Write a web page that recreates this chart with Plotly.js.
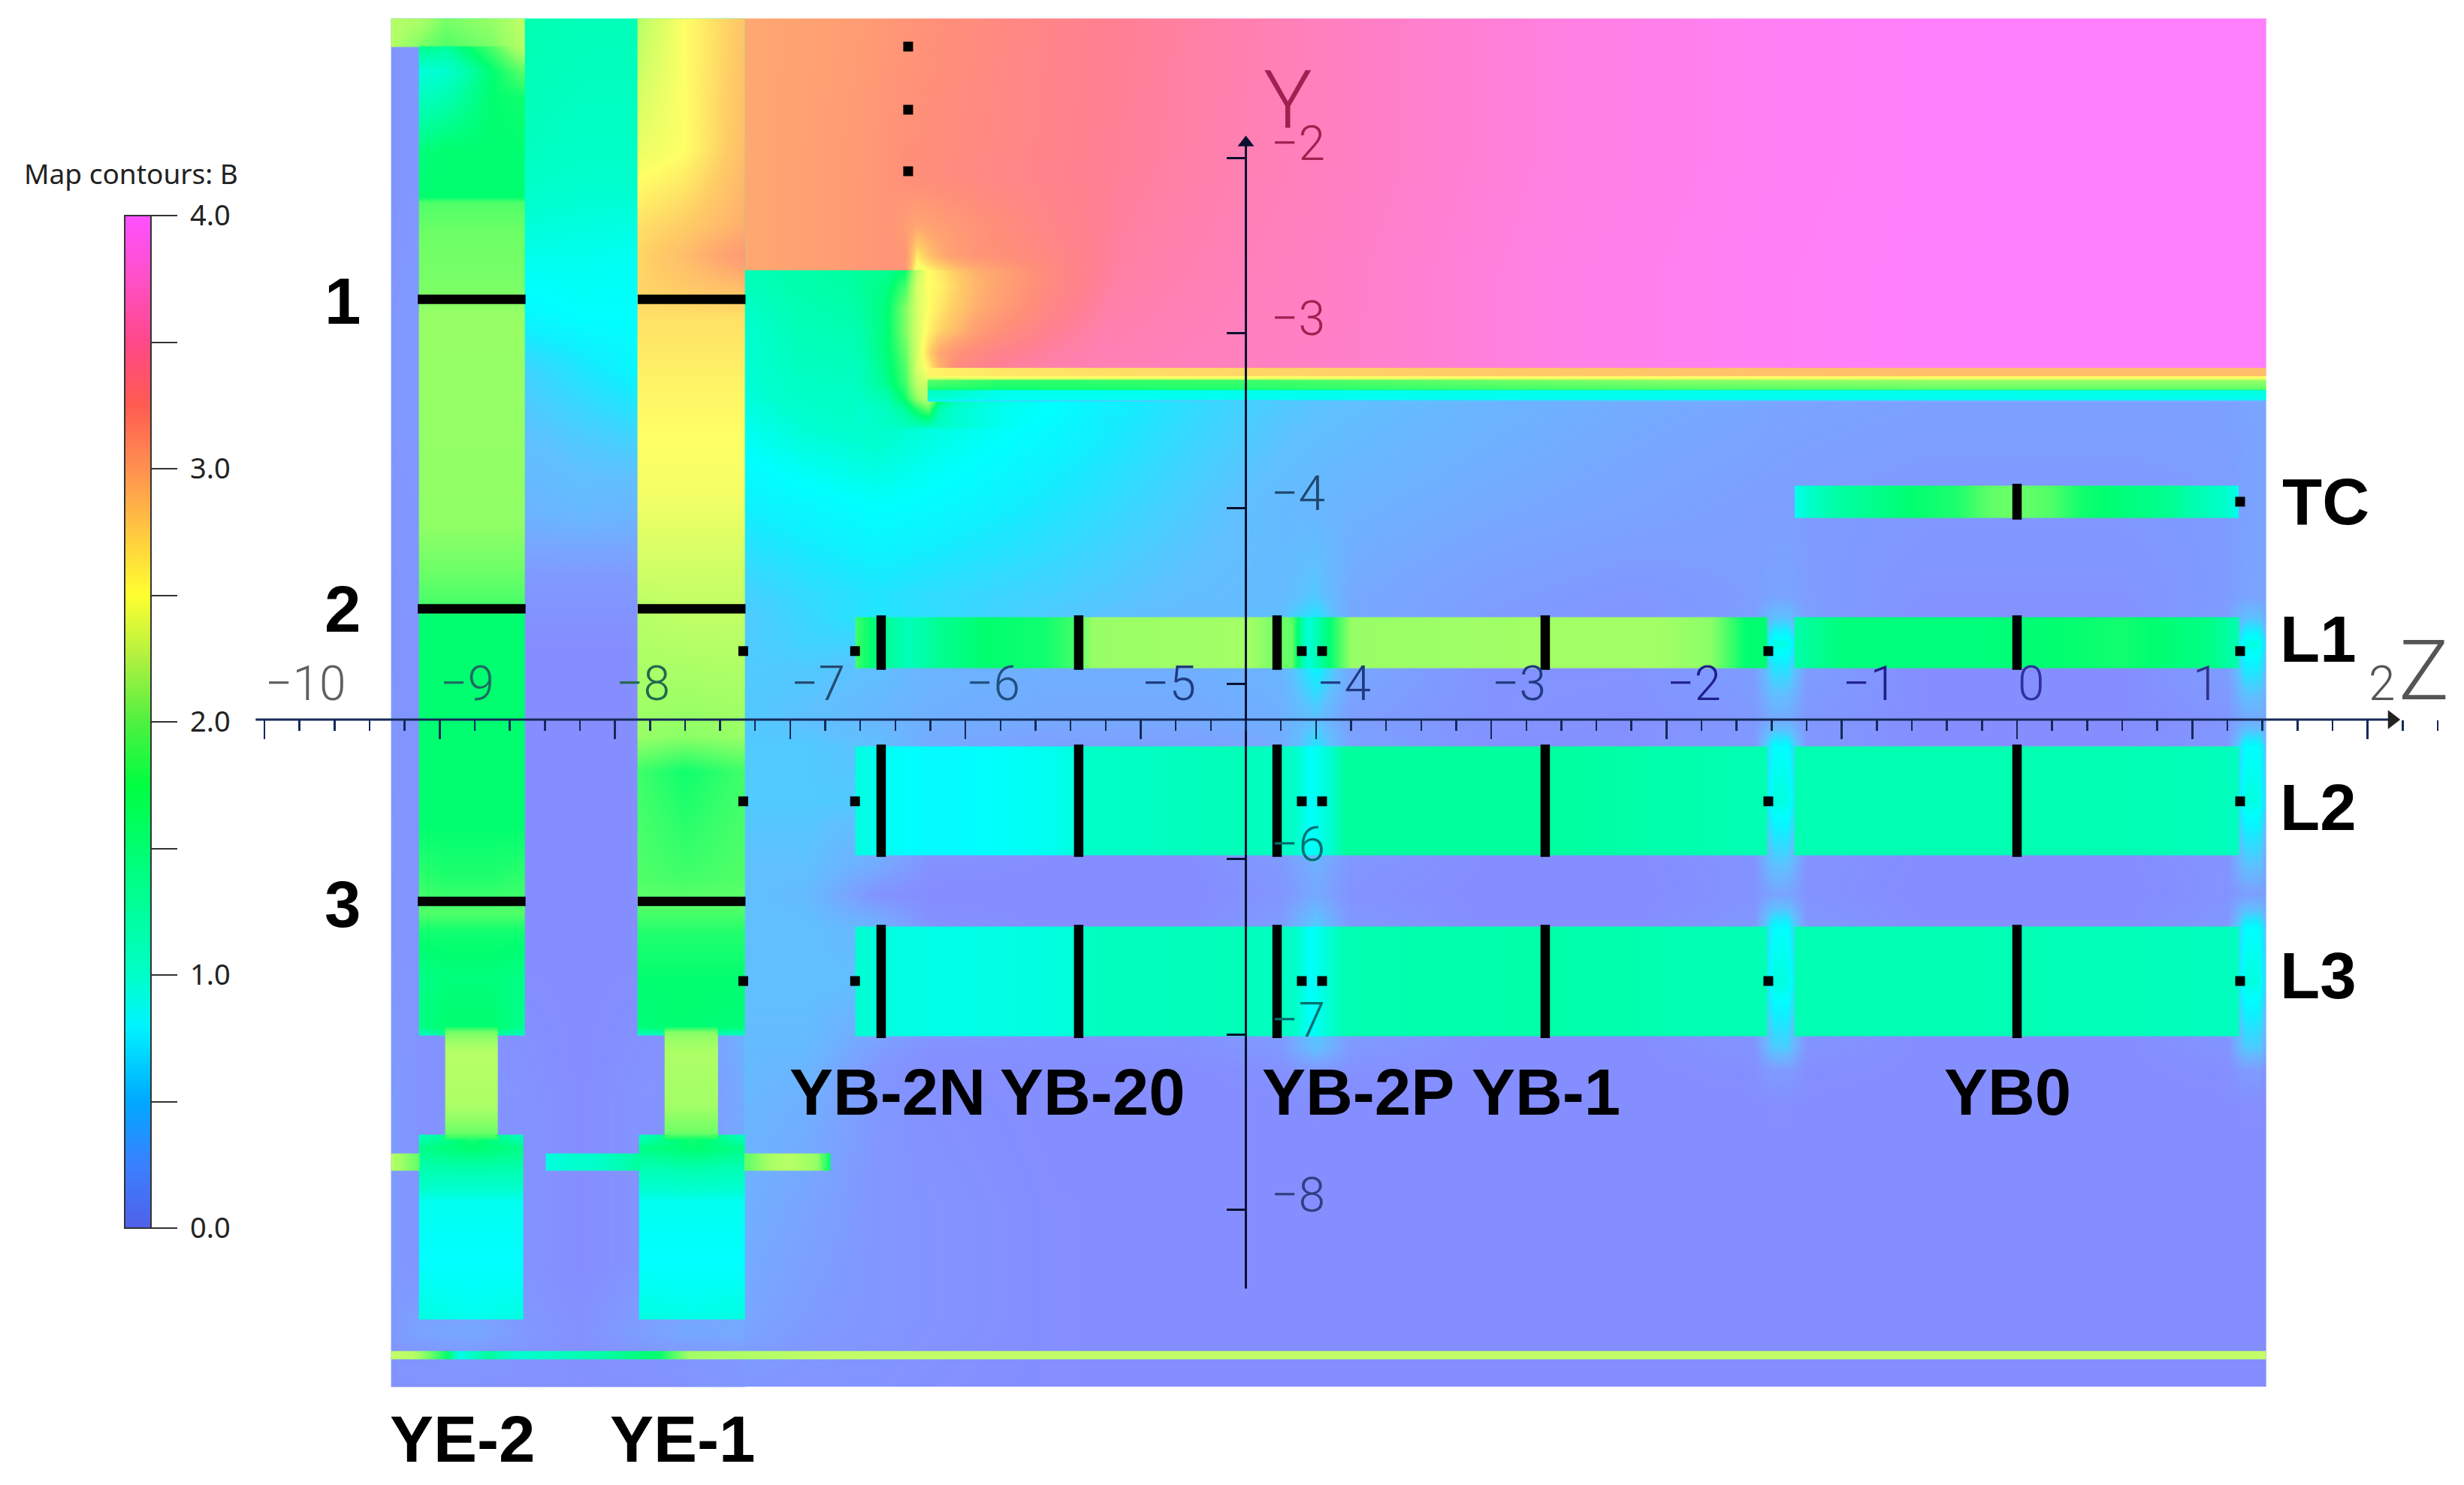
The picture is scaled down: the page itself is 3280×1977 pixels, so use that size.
<!DOCTYPE html>
<html><head><meta charset="utf-8">
<script src="https://cdn.plot.ly/plotly-3.0.1.min.js"></script>
<style>html,body{margin:0;padding:0;background:#fff}#c{width:3280px;height:1977px}</style>
</head><body><div id="c"></div>
<script>
// ---------- colour scales (B in tesla -> colour) ----------
const fieldStops=[[0,'#8888ff'],[0.25,'#7aa4ff'],[0.5,'#60c0ff'],[0.75,'#10f0ff'],[0.85,'#00ffff'],[1,'#00ffd0'],[1.25,'#00ffa8'],[1.5,'#00ff70'],[1.75,'#50ff68'],[2,'#99ff66'],[2.25,'#ccff66'],[2.5,'#ffff66'],[2.75,'#ffcc66'],[3,'#ffa870'],[3.25,'#ff9078'],[3.5,'#ff8090'],[3.75,'#ff80c0'],[4,'#ff80ff']];
const barStops=[[0,'#5060e8'],[0.25,'#3a80ff'],[0.5,'#00a8ff'],[0.8,'#00f4ff'],[1,'#00ffc8'],[1.5,'#00ff70'],[1.75,'#00ff40'],[2,'#50f040'],[2.25,'#b0f040'],[2.5,'#ffff30'],[2.75,'#ffc840'],[3,'#ff9050'],[3.25,'#ff5c50'],[3.5,'#ff4888'],[3.75,'#ff50c8'],[4,'#ff50ff']];

// ---------- lower field, right of the yokes ----------
const baseZ=[-7.261,-6.9,-6.5,-6.2,-5.5,-4.7,-4.2,-4.0,-3.8,-3.0,-2.2,-1.5,-1.39,-1.31,-1.2,-0.5,0.6,1.2,1.3,1.38,1.419];
const baseY=[-9.01,-8.6,-8.0,-7.4,-7.2,-7.08,-6.7,-6.39,-6.2,-6.04,-5.67,-5.36,-5.2,-4.9,-4.77,-4.62,-4.5,-4.0,-3.39];
const baseB=[
[.12,.1,.1,.08,.06,.05,.05,.05,.05,.05,.05,.05,.05,.05,.05,.05,.05,.05,.05,.05,.05],
[.28,.18,.12,.1,.06,.05,.05,.05,.05,.05,.05,.05,.05,.05,.05,.05,.05,.05,.05,.05,.05],
[.35,.25,.12,.1,.06,.05,.05,.05,.05,.05,.05,.05,.05,.05,.05,.05,.05,.05,.05,.05,.05],
[.42,.35,.13,.08,.05,.05,.05,.06,.05,.05,.05,.05,.06,.06,.05,.05,.05,.05,.06,.06,.05],
[.45,.4,.12,.06,.05,.05,.08,.14,.08,.05,.05,.07,.18,.18,.07,.05,.05,.07,.18,.18,.12],
[.45,.45,.2,.08,.07,.08,.15,.5,.15,.05,.05,.1,.55,.55,.1,.05,.05,.1,.55,.55,.35],
[.5,.5,.5,.3,.1,.1,.3,.8,.3,.05,.05,.2,.95,.95,.2,.05,.05,.2,.95,.95,.6],
[.5,.5,.4,.1,.05,.05,.2,.6,.15,.05,.05,.15,.85,.85,.15,.05,.05,.15,.85,.85,.55],
[.5,.45,.1,.04,.04,.04,.12,.3,.1,.04,.04,.1,.25,.25,.1,.04,.04,.1,.2,.2,.2],
[.5,.5,.3,.08,.05,.05,.15,.35,.12,.05,.05,.1,.5,.5,.1,.05,.05,.1,.5,.5,.3],
[.55,.55,.55,.3,.1,.1,.3,.8,.3,.05,.05,.2,.95,.95,.2,.05,.05,.2,.95,.95,.6],
[.55,.55,.5,.3,.2,.2,.3,.7,.25,.08,.08,.15,.85,.85,.15,.05,.05,.15,.85,.85,.55],
[.55,.5,.42,.35,.3,.3,.35,.5,.2,.1,.08,.15,.3,.3,.15,.05,.05,.12,.3,.3,.25],
[.55,.55,.5,.4,.35,.35,.4,.8,.3,.1,.1,.2,.7,.7,.2,.05,.05,.2,.75,.75,.5],
[.55,.6,.6,.5,.4,.35,.5,.95,.3,.15,.1,.2,.95,.95,.2,.05,.05,.2,.95,.95,.6],
[.55,.62,.7,.65,.55,.45,.5,.7,.3,.18,.12,.2,.5,.5,.2,.08,.08,.2,.5,.5,.35],
[.58,.64,.69,.65,.58,.48,.45,.55,.3,.2,.14,.19,.25,.25,.19,.1,.1,.18,.25,.25,.25],
[.75,.8,.85,.82,.7,.55,.45,.42,.38,.3,.25,.2,.2,.2,.18,.15,.15,.18,.22,.25,.25],
[.95,1.05,1.1,1.0,.85,.65,.55,.52,.5,.4,.32,.28,.25,.25,.25,.22,.22,.22,.25,.25,.25]];

// ---------- high field above the solenoid coil ----------
const upperZ=[-7.261,-6.6,-6.344,-5.8,-5.3,-4.8,-4.4,-3.9,-3.4,-2.6,-1.5,0,1.419];
const upperY=[-3.2,-2.643,-2.0,-1.207];
const upperB=[
[3,3.15,3.25,3.55,3.68,3.73,3.75,3.78,3.82,3.9,3.96,4,4],
[3,3.15,3.25,3.4,3.56,3.66,3.72,3.77,3.82,3.9,3.96,4,4],
[3,3.15,3.25,3.38,3.5,3.6,3.68,3.75,3.8,3.88,3.95,4,4],
[3,3.12,3.2,3.35,3.48,3.58,3.66,3.75,3.8,3.88,3.95,4,4]];

// ---------- field under the step ----------
const stepZ=[-7.261,-6.95,-6.623];
const stepY=[-3.39,-3.0,-2.643];
const stepB=[[.95,1.05,1.05],[1.0,1.15,1.2],[1.15,1.25,1.3]];

// ---------- curl at the coil end ----------
const curlZ=[-6.623,-6.451,-6.344,-6.279,-6.215,-6.151,-6.065,-5.936,-5.808,-5.508,-5.165];
const curlY=[-3.542,-3.435,-3.371,-3.285,-3.2,-3.114,-2.985,-2.857,-2.728,-2.643,-2.638,-2.557,-2.386,-2.129];
const curlB=[
[1.0,1.05,1.1,1.1,1.1,1.05,1.0,.95,.9,.82,.72],
[1.0,1.1,1.3,1.6,1.8,1.2,1.0,.95,.9,.85,.74],
[1.05,1.2,1.55,2.0,2.2,1.6,1.2,1.0,.95,.85,.76],
[1.1,1.35,1.7,2.2,2.3,2.0,1.7,1.6,1.6,1.6,1.6],
[1.1,1.4,1.75,2.3,2.55,2.9,3.3,3.45,3.55,3.65,3.7],
[1.15,1.45,1.8,2.3,2.7,3.0,3.2,3.35,3.45,3.6,3.7],
[1.2,1.45,1.9,2.3,2.55,2.7,2.85,3.1,3.25,3.5,3.68],
[1.25,1.45,1.9,2.3,2.5,2.6,2.75,2.95,3.1,3.4,3.65],
[1.3,1.4,1.7,2.3,2.5,2.55,2.7,2.9,3.05,3.35,3.6],
[1.3,1.35,1.5,2.2,2.5,2.6,2.75,2.95,3.05,3.35,3.58],
[3.15,3.2,3.2,2.4,2.55,2.65,2.8,2.98,3.08,3.35,3.58],
[3.15,3.2,3.2,2.6,2.8,2.95,3.1,3.2,3.25,3.38,3.56],
[3.15,3.2,3.12,3.02,3.06,3.1,3.15,3.22,3.28,3.42,3.54],
[3.15,3.2,3.25,3.27,3.28,3.3,3.32,3.35,3.38,3.45,3.53]];

// ---------- coil edge strip ----------
const stripZ=[-6.215,-5.8,-4.4,-2,-0.5,1.419];
const stripY=[-3.39,-3.375,-3.325,-3.318,-3.265,-3.258,-3.245,-3.24,-3.2];
const stripB=[
[.6,.5,.3,.22,.2,.2],
[1.0,.9,.9,.9,.9,.9],
[1.1,.9,.9,.9,.9,.95],
[1.6,1.55,1.6,1.75,1.8,1.8],
[1.8,1.65,1.7,1.95,2.0,2.0],
[2.3,2.4,2.4,2.45,2.45,2.45],
[2.45,2.5,2.5,2.5,2.5,2.5],
[2.55,2.62,2.7,2.8,2.85,2.85],
[2.55,2.62,2.7,2.8,2.85,2.85]];

// ---------- left part: vacuum columns between the endcap disks ----------
const leftZ=[-9.276,-9.117,-8.8,-8.517,-8.2,-7.87,-7.6,-7.261];
const leftY=[-9.01,-8.85,-8.7,-8.3,-7.4,-6.5,-4.8,-4.4,-4,-3.6,-3.2,-2.9,-2.6,-2,-1.207];
const leftB=[
[.1,.1,.1,.1,.08,.08,.1,.12],
[.1,.12,.12,.1,.08,.1,.12,.15],
[.15,.25,.3,.15,.08,.2,.3,.3],
[.16,.1,.1,.1,.05,.1,.1,.35],
[.16,.1,.1,.1,.05,.1,.1,.3],
[.14,.1,.1,.05,.05,.05,.1,.45],
[.12,.1,.1,.05,.05,.05,.1,.55],
[.12,.12,.15,.15,.15,.15,.15,.6],
[.12,.14,.3,.4,.45,.42,.5,.75],
[.14,.15,.4,.5,.55,.6,.7,.9],
[.14,.16,.5,.6,.7,.8,.9,1.0],
[.14,.16,.6,.8,.85,.85,.9,1],
[.12,.16,.7,.9,.9,.88,.9,1],
[.1,.14,.9,1.1,1.05,1.05,1,1],
[.1,.14,1,1.2,1.15,1.15,1,1]];

// ---------- endcap disks ----------
const ye2Z=[-9.117,-8.967,-8.7,-8.517];
const ye2Y=[-7.004,-6.96,-6.67,-6.41,-6.306,-6.113,-5.813,-5.205,-4.613,-4.58,-4.356,-4.1,-2.9,-2.77,-2.43,-2.257,-2.22,-1.957,-1.657,-1.507,-1.366];
const ye2B=[
[1.1,1.3,1.3,1.1],[1.4,1.5,1.5,1.35],[1.4,1.45,1.45,1.4],[1.55,1.55,1.55,1.55],[1.75,1.75,1.75,1.75],[1.65,1.6,1.6,1.65],[1.5,1.5,1.5,1.5],[1.5,1.5,1.5,1.5],[1.5,1.5,1.5,1.5],[1.7,1.7,1.7,1.7],[1.85,1.85,1.85,1.85],[1.97,1.97,1.97,1.97],[2,2,2,2],[1.9,1.9,1.9,1.9],[1.85,1.85,1.85,1.85],[1.75,1.75,1.75,1.75],[1.5,1.5,1.5,1.5],[1.45,1.5,1.5,1.5],[1.1,1.2,1.5,1.55],[.95,1.0,1.5,1.8],[1.4,1.3,1.75,2.2]];
const capZ=[-9.276,-9.117,-8.967,-8.7,-8.517];
const capY=[-1.366,-1.207];
const capB=[[2.15,1.9,1.75,1.9,2.15],[2.15,2.1,1.9,2.0,2.2]];
const ye1Z=[-7.87,-7.6,-7.261];
const ye1Y=[-7.004,-6.96,-6.7,-6.42,-6.24,-6.1,-5.5,-5.3,-4.6,-4.57,-4.4,-3.9,-3.3,-2.9,-2.78,-2.557,-2.386,-1.957,-1.207];
const ye1B=[
[1.1,1.25,1.1],[1.45,1.5,1.45],[1.5,1.5,1.5],[1.6,1.6,1.6],[1.8,1.8,1.8],[1.75,1.7,1.75],[1.7,1.55,1.7],[2.0,1.95,2.0],[2.15,2.2,2.2],[2.15,2.2,2.2],[2.25,2.25,2.25],[2.45,2.45,2.45],[2.55,2.55,2.55],[2.65,2.65,2.65],[2.7,2.75,2.8],[2.7,2.85,3.15],[2.65,2.75,2.95],[2.4,2.5,2.85],[2.15,2.5,2.8]];

// ---------- yoke tails, lower disks, crossbars, bottom line ----------
const tail2Z=[-8.967,-8.671];
const tail1Z=[-7.715,-7.415];
const tailY=[-7.6,-7.56,-7.4,-7.1,-6.99,-6.961];
const tail2B=[[1.6,1.6],[1.85,1.85],[2.1,2.1],[2.15,2.15],[1.9,1.9],[1.6,1.6]];
const tail1B=[[1.55,1.55],[1.85,1.85],[2.05,2.05],[2.1,2.1],[1.95,1.95],[1.6,1.6]];
const foot2Z=[-9.117,-8.82,-8.526];
const foot1Z=[-7.861,-7.56,-7.261];
const footY=[-8.624,-8.3,-7.95,-7.8,-7.65,-7.574];
const foot2B=[[.95,.9,.95],[.85,.85,.85],[.9,.9,.9],[1.15,1.15,1.15],[1.4,1.5,1.4],[1.1,1.6,1.1]];
const foot1B=[[.95,.92,.95],[.85,.85,.85],[.9,.9,.9],[1.1,1.15,1.1],[1.4,1.5,1.4],[1.1,1.6,1.1]];
const crossY=[-7.775,-7.681];
const cross1Z=[-9.276,-9.117];
const cross1V=[2.15,1.8];
const cross2Z=[-8.393,-8.1,-7.861];
const cross2V=[.95,1.05,1.3];
const cross3Z=[-7.261,-7.1,-7.0,-6.85,-6.772];
const cross3V=[1.8,2.1,2.15,2.0,1.5];
const lineZ=[-9.276,-9.147,-8.95,-8.886,-8.723,-8.556,-8.08,-7.737,-7.574,-6.794,1.419];
const lineV=[2.2,2.15,1.5,.9,1.3,1.0,1.25,1.55,2.05,2.2,2.2];
const lineY=[-8.851,-8.808];

// ---------- barrel wheels: layers L1, L2, L3 and TC ----------
const l1Y=[-4.909,-4.622];
const l2Y=[-5.976,-5.359];
const l3Y=[-7.009,-6.387];
const tcY=[-4.052,-3.872];
const l1LeftZ=[-6.627,-6.5,-6.33,-6.15,-5.9,-5.55,-5.38,-5.28,-4.4,-4.14,-4.05,-3.97,-3.8,-2.7,-2.05,-1.75,-1.55,-1.427];
const l1LeftV=[1.7,1.4,1.15,1.35,1.5,1.55,1.7,2.0,2.05,1.8,.95,1.3,2.0,2.05,2.05,1.95,1.5,1.5];
const rightZ=[-1.269,-1.0,-0.2,0.6,1.1,1.264];
const l1RightV=[1.25,1.45,1.45,1.55,1.4,1.2];
const l2LeftZ=[-6.627,-6.48,-6.15,-5.51,-5.38,-5.3,-4.44,-4.136,-4.03,-3.92,-3.84,-2.72,-1.65,-1.427];
const l2LeftV=[.95,.88,.82,.9,.95,1.05,1.15,1.05,.85,1.0,1.3,1.3,1.2,1.2];
const l2RightV=[1.2,1.2,1.2,1.18,1.15,1.1];
const l3LeftV=[1.0,.95,.92,.95,.98,1.1,1.15,1.05,.85,1.0,1.2,1.25,1.18,1.18];
const l3RightV=[1.18,1.18,1.18,1.15,1.12,1.1];
const tcZ=[-1.267,-1.046,-.603,-.337,-.16,-.015,.19,.37,.87,1.167,1.264];
const tcV=[.9,1.25,1.5,1.6,1.8,1.85,1.75,1.55,1.35,1.05,.9];

// ---------- black chambers ----------
const verticalZ=[-6.481,-5.354,-4.222,-2.692,0];
const stationY=[-2.808,-4.573,-6.242];
const ye2LineZ=[-9.125,-8.51];
const ye1LineZ=[-7.87,-7.255];
const tcBarZ=[0];
const dotRowsY=[-4.814,-5.671,-6.696];
const dotRowsZ=[-7.268,-6.63,-4.081,-3.965,-1.419,1.273];
const tcDot=[1.273,-3.962];
const topDotZ=-6.327;
const topDotY=[-1.366,-1.726,-2.077];

// ---------- axes ----------
const axisCrossY=-5.205, axisCrossZ=-4.4;
const zLine=[-10.05,2.12], yLine=[-8.45,-1.93];
const zTicks=[-10,-9,-8,-7,-6,-5,-4,-3,-2,-1,0,1,2];
const zTickText=['−10','−9','−8','−7','−6','−5','−4','−3','−2','−1','0','1','2'];
const zTickColor=['#606060','#1f6a60','#1f6a50','#254a70','#205080','#203a80','#203a80','#203a80','#20208a','#20208a','#3030a0','#333388','#555555'];
const yTicks=[-2,-3,-4,-6,-7,-8];
const yTickText=['−2','−3','−4','−6','−7','−8'];
const yTickColor=['#a02050','#a02050','#204870','#007070','#007070','#304080'];
const yMajor=[-2,-3,-4,-5,-6,-7,-8];
const barVals=[0,0.5,1,1.5,2,2.5,3,3.5,4];
const barText=['\u00a00.0','','\u00a01.0','','\u00a02.0','','\u00a03.0','','\u00a04.0'];

// pixel frame of the picture: 233.3 px per metre in z, 233.4 in y
const xr=[(0-2685)/233.3,(3280-2685)/233.3], yr=[-2-(1977-210)/233.4,-2-(0-210)/233.4];
const scale=s=>s.map(p=>[p[0]/4,p[1]]);
function field(x,y,z){
  const e=.001, X=[x[0]-e,...x,x[x.length-1]+e], Y=[y[0]-e,...y,y[y.length-1]+e];
  const pad=r=>[r[0],...r,r[r.length-1]];
  const Z=[z[0],...z,z[z.length-1]].map(pad);
  return {type:'heatmap',x:X,y:Y,z:Z,zmin:0,zmax:4,zsmooth:'best',colorscale:scale(fieldStops),showscale:false,hoverinfo:'skip'};
}
const both=v=>[v,v];
const traces=[
 field(upperZ,upperY,upperB),
 field(leftZ,leftY,leftB),
 field(baseZ,baseY,baseB),
 field(stepZ,stepY,stepB),
 field(curlZ,curlY,curlB),
 field(stripZ,stripY,stripB),
 field(capZ,capY,capB),
 field(ye2Z,ye2Y,ye2B),
 field(ye1Z,ye1Y,ye1B),
 field(foot2Z,footY,foot2B),
 field(foot1Z,footY,foot1B),
 field(tail2Z,tailY,tail2B),
 field(tail1Z,tailY,tail1B),
 field(cross1Z,crossY,both(cross1V)),
 field(cross2Z,crossY,both(cross2V)),
 field(cross3Z,crossY,both(cross3V)),
 field(lineZ,lineY,both(lineV)),
 field(l1LeftZ,l1Y,both(l1LeftV)),
 field(rightZ,l1Y,both(l1RightV)),
 field(l2LeftZ,l2Y,both(l2LeftV)),
 field(rightZ,l2Y,both(l2RightV)),
 field(l2LeftZ,l3Y,both(l3LeftV)),
 field(rightZ,l3Y,both(l3RightV)),
 field(tcZ,tcY,both(tcV))
];
// colour bar, carried by a cell that lies outside the visible range
traces.push({type:'heatmap',x:[-40,-39],y:[-40,-39],z:[[0,4],[0,4]],zmin:0,zmax:4,colorscale:scale(barStops),hoverinfo:'skip',
 colorbar:{x:166/3280,xanchor:'left',y:(1977-1635)/1977,yanchor:'bottom',len:1348,lenmode:'pixels',thickness:35,xpad:0,ypad:0,
  outlinecolor:'#333',outlinewidth:2,borderwidth:0,ticks:'outside',ticklen:34,tickwidth:2,tickcolor:'#333',tickmode:'array',tickvals:barVals,ticktext:barText,
  tickfont:{family:'Noto Sans',size:38,color:'#222'}}});
// chambers
const vx=[],vy=[];
[l1Y,l2Y,l3Y].forEach(r=>verticalZ.forEach(z=>{vx.push(z,z,null);vy.push(r[0]-.012,r[1]+.012,null);}));
tcBarZ.forEach(z=>{vx.push(z,z,null);vy.push(tcY[0]-.012,tcY[1]+.012,null);});
traces.push({type:'scatter',mode:'lines',x:vx,y:vy,line:{color:'#000',width:12.5},hoverinfo:'skip',showlegend:false});
const hx=[],hy=[];
stationY.forEach(y=>[ye2LineZ,ye1LineZ].forEach(s=>{hx.push(s[0],s[1],null);hy.push(y,y,null);}));
traces.push({type:'scatter',mode:'lines',x:hx,y:hy,line:{color:'#000',width:12.5},hoverinfo:'skip',showlegend:false});
const dx=[tcDot[0]],dy=[tcDot[1]];
dotRowsY.forEach(y=>dotRowsZ.forEach(z=>{dx.push(z);dy.push(y);}));
topDotY.forEach(y=>{dx.push(topDotZ);dy.push(y);});
traces.push({type:'scatter',mode:'markers',x:dx,y:dy,marker:{symbol:'square',size:13,color:'#000',line:{width:0}},hoverinfo:'skip',showlegend:false});
// axis lines and arrowheads
traces.push({type:'scatter',mode:'lines',x:zLine,y:[axisCrossY,axisCrossY],line:{color:'#142a58',width:3},hoverinfo:'skip'});
traces.push({type:'scatter',mode:'lines',x:[axisCrossZ,axisCrossZ],y:yLine,line:{color:'#0a1030',width:3},hoverinfo:'skip'});
traces.push({type:'scatter',mode:'markers',x:[2.14],y:[axisCrossY],marker:{symbol:'triangle-right',size:22,color:'#222',line:{width:0}},hoverinfo:'skip'});
traces.push({type:'scatter',mode:'markers',x:[axisCrossZ],y:[-1.914],marker:{symbol:'triangle-up',size:19,color:'#0a1030',line:{width:0}},hoverinfo:'skip'});

const zMinor=[],yMinor=[];
for(let i=-50;i<=12;i++){ if(i%5) zMinor.push(i/5); }
for(let i=-42;i>=-10;i--){ if(i%5) yMinor.push(i/5); }

const ann=[];
const big={family:'Liberation Sans',size:87,color:'#000',weight:700};
function label(t,px,py,anchor){ann.push({text:t,xref:'paper',yref:'paper',x:px/3280,y:1-py/1977,xanchor:anchor||'left',yanchor:'middle',showarrow:false,font:big,borderpad:0});}
label('1',456,400,'center');label('2',456,810,'center');label('3',456,1203,'center');
label('TC',3037,668);label('L1',3034,850);label('L2',3034,1074);label('L3',3034,1298);
label('YB-2N',1050,1453);label('YB-20',1330,1453);label('YB-2P',1679,1453);label('YB-1',1958,1453);label('YB0',2587,1453);
label('YE-2',518,1915);label('YE-1',811,1915);
const thin='Roboto';
zTicks.forEach((v,i)=>ann.push({text:zTickText[i],xref:'x',yref:'y',x:v,y:-5.0,xanchor:'left',yanchor:'middle',showarrow:false,borderpad:0,font:{family:thin,size:64,weight:300,color:zTickColor[i]}}));
yTicks.forEach((v,i)=>ann.push({text:yTickText[i],xref:'x',yref:'y',x:axisCrossZ,y:v,xshift:33,yshift:19,xanchor:'left',yanchor:'middle',showarrow:false,borderpad:0,font:{family:thin,size:64,weight:300,color:yTickColor[i]}}));
ann.push({text:'Y',xref:'paper',yref:'paper',x:1715/3280,y:1-133/1977,xanchor:'center',yanchor:'middle',showarrow:false,font:{family:thin,size:108,weight:300,color:'#a02050'}});
ann.push({text:'Z',xref:'paper',yref:'paper',x:3226/3280,y:1-892/1977,xanchor:'center',yanchor:'middle',showarrow:false,font:{family:thin,size:112,weight:300,color:'#555'}});
ann.push({text:'Map contours: B',xref:'paper',yref:'paper',x:30/3280,y:1-231/1977,xanchor:'left',yanchor:'middle',showarrow:false,font:{family:'Noto Sans',size:37,color:'#222'}});

const layout={width:3280,height:1977,margin:{l:0,r:0,t:0,b:0},paper_bgcolor:'#fff',plot_bgcolor:'#fff',showlegend:false,
 xaxis:{range:xr,anchor:'free',position:(axisCrossY-yr[0])/(yr[1]-yr[0]),showgrid:false,zeroline:false,showline:false,showticklabels:false,
  tickmode:'array',tickvals:zTicks,ticks:'outside',ticklen:25,tickwidth:2.5,tickcolor:'#142a58',
  minor:{tickmode:'array',tickvals:zMinor,ticks:'outside',ticklen:14,tickwidth:2.5,tickcolor:'#142a58',showgrid:false}},
 yaxis:{range:yr,anchor:'free',position:(axisCrossZ-xr[0])/(xr[1]-xr[0]),showgrid:false,zeroline:false,showline:false,showticklabels:false,
  tickmode:'array',tickvals:yMajor,ticks:'outside',ticklen:25,tickwidth:3,tickcolor:'#0a1030',
  minor:{tickmode:'array',tickvals:yMinor,ticks:'outside',ticklen:14,tickwidth:3,tickcolor:'#0a1030',showgrid:false}},
 annotations:ann};
Plotly.newPlot('c',traces,layout,{displayModeBar:false,staticPlot:true});
</script></body></html>
